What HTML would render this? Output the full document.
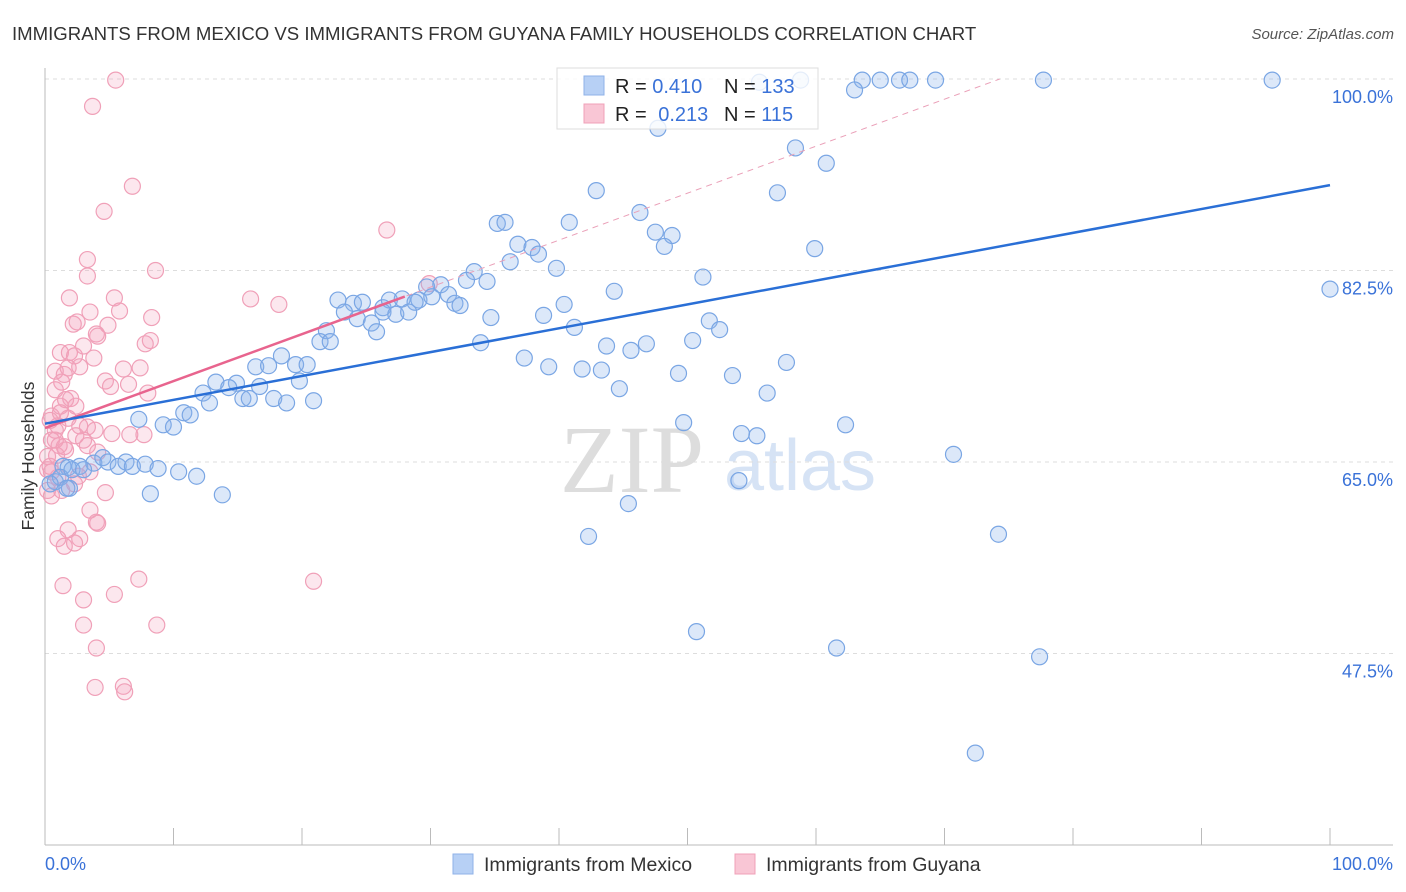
<!DOCTYPE html>
<html><head><meta charset="utf-8"><style>
body{margin:0;background:#fff;font-family:"Liberation Sans",sans-serif;}
svg{display:block}
</style></head><body>
<svg id="chart" width="1406" height="892" xmlns="http://www.w3.org/2000/svg">
<text x="12" y="40" font-size="18.6" fill="#333">IMMIGRANTS FROM MEXICO VS IMMIGRANTS FROM GUYANA FAMILY HOUSEHOLDS CORRELATION CHART</text>
<text x="1394" y="39" font-size="15" fill="#555" font-style="italic" text-anchor="end">Source: ZipAtlas.com</text>
<text x="34" y="456" font-size="17.5" fill="#333" text-anchor="middle" transform="rotate(-90 34 456)">Family Households</text>
<g><text x="632" y="492" font-size="96" fill="#ddd" font-family="Liberation Serif" text-anchor="middle">ZIP</text><text x="800" y="490" font-size="72" fill="#d6e3f5" text-anchor="middle">atlas</text></g>
<g id="grid"></g><g id="axes"></g><g id="marks"></g>
<g>
<rect x="557" y="68" width="261" height="61" fill="rgba(255,255,255,0.8)" stroke="#ddd"/>
<rect x="584" y="76" width="20" height="19" fill="#b7d0f5" stroke="#8fb2e8"/>
<rect x="584" y="104" width="20" height="19" fill="#f9c6d5" stroke="#f0a0b8"/>
<text x="615" y="93" font-size="20" fill="#222">R = <tspan fill="#3a72d8">0.410</tspan></text>
<text x="724" y="93" font-size="20" fill="#222">N = <tspan fill="#3a72d8">133</tspan></text>
<text x="615" y="121" font-size="20" fill="#222">R = <tspan fill="#3a72d8" dx="6">0.213</tspan></text>
<text x="724" y="121" font-size="20" fill="#222">N = <tspan fill="#3a72d8">115</tspan></text>
</g>
<g>
<rect x="453" y="854" width="20" height="20" fill="#b7d0f5" stroke="#8fb2e8"/>
<text x="484" y="871" font-size="19.5" fill="#333">Immigrants from Mexico</text>
<rect x="735" y="854" width="20" height="20" fill="#f9c6d5" stroke="#f0a0b8"/>
<text x="766" y="871" font-size="19.5" fill="#333">Immigrants from Guyana</text>
</g>
</svg>
<script>
const yTicks=[47.5,65,82.5,100];
const yTickLabels=["47.5%","65.0%","82.5%","100.0%"];
const xTicks=[0,10,20,30,40,50,60,70,80,90,100];
const blueX=[58.8,63.6,65.0,66.5,67.3,69.3,77.7,95.5,55.6,63.0,47.7,58.4,60.8,42.9,57.0,46.3,40.8,35.2,35.8,47.5,48.8,48.2,36.8,37.9,38.4,36.2,39.8,59.9,51.2,44.3,33.4,32.8,34.4,30.8,29.7,22.8,24.0,24.7,26.3,26.8,27.8,29.1,28.8,30.1,31.4,31.9,32.3,40.4,26.3,27.3,28.3,23.3,24.3,25.4,25.8,21.9,21.4,22.2,34.7,38.8,41.2,51.7,52.5,43.7,45.6,46.8,50.4,33.9,37.3,39.2,41.8,43.3,49.3,53.5,57.7,44.7,56.2,18.4,16.4,17.4,19.5,20.4,19.8,13.3,14.9,16.7,14.3,12.3,15.4,12.8,15.9,17.8,18.8,20.9,10.8,11.3,7.3,9.2,10.0,49.7,54.2,55.4,62.3,70.7,1.4,1.8,2.7,3.8,4.5,4.9,5.7,6.3,6.8,7.8,8.8,10.4,11.8,0.8,1.2,2.1,3.0,1.9,8.2,13.8,54.0,45.4,42.3,74.2,50.7,61.6,77.4,72.4,100,1.7,0.4];
const blueY=[99.9,99.9,99.9,99.9,99.9,99.9,99.9,99.9,99.7,99.0,95.5,93.7,92.3,89.8,89.6,87.8,86.9,86.8,86.9,86.0,85.7,84.7,84.9,84.6,84.0,83.3,82.7,84.5,81.9,80.6,82.4,81.6,81.5,81.2,81.0,79.8,79.5,79.6,79.1,79.8,79.9,79.8,79.6,80.1,80.3,79.5,79.3,79.4,78.7,78.5,78.7,78.7,78.1,77.7,76.9,77.0,76.0,76.0,78.2,78.4,77.3,77.9,77.1,75.6,75.2,75.8,76.1,75.9,74.5,73.7,73.5,73.4,73.1,72.9,74.1,71.7,71.3,74.7,73.7,73.8,73.9,73.9,72.4,72.3,72.2,71.9,71.8,71.3,70.8,70.4,70.8,70.8,70.4,70.6,69.5,69.3,68.9,68.4,68.2,68.6,67.6,67.4,68.4,65.7,64.6,64.5,64.6,64.9,65.4,65.0,64.6,65.0,64.6,64.8,64.4,64.1,63.7,63.2,63.6,64.3,64.3,62.6,62.1,62.0,63.3,61.2,58.2,58.4,49.5,48.0,47.2,38.4,80.8,62.6,63.0];
const pinkX=[5.5,3.7,6.8,4.6,3.3,3.3,8.6,1.9,5.4,16.0,18.2,26.6,29.9,3.5,5.8,2.2,2.5,4.9,8.3,4.1,4.0,1.2,1.9,2.3,3.0,3.8,7.8,8.2,0.8,1.5,1.8,2.7,6.1,7.4,4.7,6.5,5.1,8.0,1.3,0.8,1.6,2.0,2.4,1.2,0.5,1.2,1.8,1.0,0.8,2.7,3.3,3.9,3.0,0.5,1.1,1.5,2.4,5.2,6.6,7.7,0.2,0.9,1.6,3.3,4.1,0.4,0.5,1.0,2.6,3.5,0.2,0.5,1.3,2.3,4.7,3.5,4.0,4.1,1.8,1.0,2.7,1.5,2.3,7.3,20.9,1.4,5.4,3.0,3.0,8.7,4.0,3.9,6.1,6.2,0.8,0.4,0.2];
const pinkY=[99.9,97.5,90.2,87.9,83.5,82.0,82.5,80.0,80.0,79.9,79.4,86.2,81.3,78.7,78.8,77.6,77.8,77.5,78.2,76.5,76.7,75.0,75.0,74.7,75.6,74.5,75.8,76.1,73.3,73.0,73.6,73.7,73.5,73.6,72.4,72.1,71.9,71.3,72.3,71.6,70.7,70.8,70.1,70.1,69.2,69.5,69.0,68.3,67.9,68.3,68.2,67.9,67.0,67.0,66.5,66.4,67.4,67.6,67.5,67.5,65.5,65.6,66.1,66.5,65.9,64.6,64.1,63.6,63.7,64.1,62.4,61.9,62.4,63.0,62.2,60.6,59.5,59.4,58.8,58.0,58.0,57.3,57.6,54.3,54.1,53.7,52.9,52.4,50.1,50.1,48.0,44.4,44.5,44.0,67.0,68.8,64.3];
const blueTrend=[68.5,90.3];
const pinkTrend=[68.1,100,74.3,28];
const sx=v=>45+v*12.85, sy=v=>79+(100-v)*10.943;
const NS="http://www.w3.org/2000/svg";
function mk(p,t,a){const e=document.createElementNS(NS,t);for(const k in a)e.setAttribute(k,a[k]);p.appendChild(e);return e;}
const grid=document.getElementById('grid'),axes=document.getElementById('axes'),marks=document.getElementById('marks');
yTicks.forEach((t,i)=>{
 const l=mk(grid,'line',{x1:45,x2:1393,y1:sy(t),y2:sy(t),stroke:'#ddd','stroke-dasharray':'4,4'});
 
 
 const tx=mk(axes,'text',{x:1393,y:sy(t)+24,'font-size':18,fill:'#3a72d8','text-anchor':'end'});tx.textContent=yTickLabels[i];
 
 
});
mk(axes,'line',{x1:45,x2:45,y1:68,y2:845,stroke:'#bbb'});
mk(axes,'line',{x1:45,x2:1393,y1:845,y2:845,stroke:'#bbb'});
xTicks.forEach(t=>{const l=mk(axes,'line',{x1:sx(t),x2:sx(t),y1:828,y2:845,stroke:'#bbb'});
 
 });
let a=mk(axes,'text',{x:45,y:870,'font-size':18,fill:'#3a72d8'});a.textContent='0.0%';


a=mk(axes,'text',{x:1393,y:870,'font-size':18,fill:'#3a72d8','text-anchor':'end'});a.textContent='100.0%';


pinkX.forEach((x,i)=>{const c=mk(marks,'circle',{cx:sx(x),cy:sy(pinkY[i]),r:8,fill:'rgba(244,160,186,0.25)',stroke:'#f0a0b8','stroke-width':1.2});
 
 });
blueX.forEach((x,i)=>{const c=mk(marks,'circle',{cx:sx(x),cy:sy(blueY[i]),r:8,fill:'rgba(140,180,235,0.3)',stroke:'#7aa6e4','stroke-width':1.2});
 
 });
let tl=mk(marks,'line',{x1:sx(0),y1:sy(pinkTrend[0]),x2:sx(pinkTrend[2]),y2:sy(pinkTrend[1]),stroke:'#eaa0b8','stroke-dasharray':'6,5','stroke-width':1});


const ps=(pinkTrend[1]-pinkTrend[0])/pinkTrend[2];
tl=mk(marks,'line',{x1:sx(0),y1:sy(pinkTrend[0]),x2:sx(pinkTrend[3]),y2:sy(pinkTrend[0]+ps*pinkTrend[3]),stroke:'#e8648e','stroke-width':2.5});


tl=mk(marks,'line',{x1:sx(0),y1:sy(blueTrend[0]),x2:sx(100),y2:sy(blueTrend[1]),stroke:'#2a6fd6','stroke-width':2.5});


</script>
</body></html>
